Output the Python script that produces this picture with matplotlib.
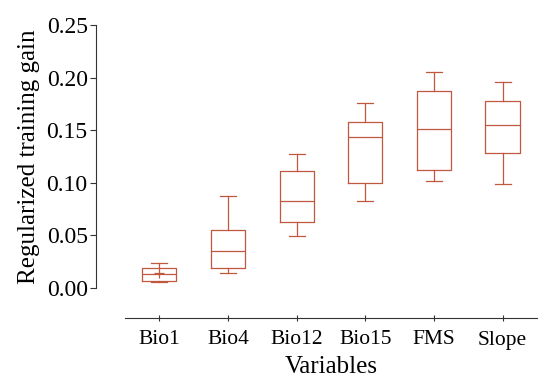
import matplotlib
matplotlib.use("Agg")
import matplotlib.pyplot as plt

# box statistics
variables = ["Bio1", "Bio4", "Bio12", "Bio15", "FMS", "Slope"]
whislo = [0.0054, 0.014, 0.049, 0.083, 0.102, 0.099]
q1 = [0.0067, 0.0193, 0.063, 0.100, 0.112, 0.128]
med = [0.0133, 0.0355, 0.083, 0.1435, 0.151, 0.1547]
q3 = [0.0193, 0.055, 0.111, 0.158, 0.187, 0.1775]
whishi = [0.0234, 0.0875, 0.127, 0.176, 0.205, 0.196]
bio1_mean = 0.0140

color = "#c0583f"
plt.rcParams["font.family"] = ["Liberation Serif", "DejaVu Serif"]

stats = []
for i, name in enumerate(variables):
    stats.append({"label": name, "whislo": whislo[i], "q1": q1[i], "med": med[i],
                  "q3": q3[i], "whishi": whishi[i], "fliers": []})

fig = plt.figure(figsize=(5.5, 3.92), dpi=100)
ax = fig.add_axes([125 / 550, 1 - 288 / 392, 412 / 550, 263 / 392])

line = dict(color=color, linewidth=0.9)
ax.bxp(stats, positions=range(len(variables)), widths=0.5, showfliers=False,
       boxprops=line, whiskerprops=line, capprops=line, medianprops=line,
       capwidths=0.23)
ax.plot([0], [bio1_mean], marker="+", color=color, markersize=7, markeredgewidth=0.9)

ax.set_xlim(-0.5, len(variables) - 0.5)
ax.set_ylim(0, 0.25)
ax.set_yticks([0.0, 0.05, 0.10, 0.15, 0.20, 0.25])
ax.set_yticklabels(["0.00", "0.05", "0.10", "0.15", "0.20", "0.25"])
ax.set_xticks(range(len(variables)))
ax.set_xticklabels(variables)

for s in ["top", "right"]:
    ax.spines[s].set_visible(False)
ax.spines["left"].set_position(("outward", 29 * 72 / 100))
ax.spines["bottom"].set_position(("outward", 30 * 72 / 100))
for s in ["left", "bottom"]:
    ax.spines[s].set_color("#333333")
    ax.spines[s].set_linewidth(0.8)
ax.tick_params(colors="#333333", labelcolor="black", width=0.8)
ax.tick_params(axis="y", labelsize=17, length=4, pad=2)
ax.tick_params(axis="x", labelsize=15.5, length=4, direction="inout", pad=7)

ax.set_xlabel("Variables", fontsize=18, labelpad=5)
ax.set_ylabel("Regularized training gain", fontsize=18, labelpad=5)

fig.savefig("out.png", dpi=100)
